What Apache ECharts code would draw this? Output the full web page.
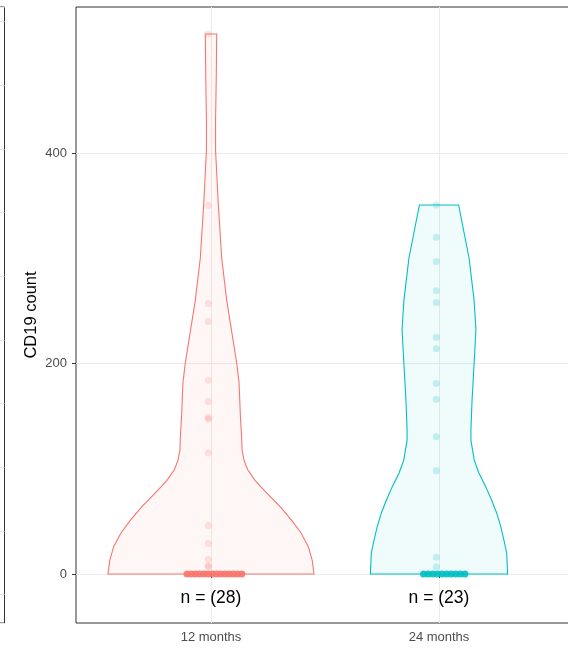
<!DOCTYPE html>
<html><head><meta charset="utf-8">
<script src="https://cdn.jsdelivr.net/npm/echarts@6/dist/echarts.min.js"></script>
<style>html,body{margin:0;padding:0;background:#fff}#c{width:568px;height:648px}</style>
</head><body><div id="c"></div>
<script>
// ---- data ----
const categories = ['12 months', '24 months'];
const yTickValues = [0, 200, 400];
const yTitle = 'CD19 count';

// CD19 counts per timepoint
const values12 = [513, 350, 257, 240, 184, 164, 149, 147, 115, 46, 29, 14, 8, 7,
                  0, 0, 0, 0, 0, 0, 0, 0, 0, 0, 0, 0, 0, 0];
const values24 = [350.6, 320, 297, 269, 258, 225, 214, 181, 166, 130.5, 98, 16, 7,
                  0, 0, 0, 0, 0, 0, 0, 0, 0, 0];

// violin density outline: level and half-width (in category units)
const violin12Level = [0, 13, 26, 39, 51, 64, 77, 89, 99, 108, 118, 127, 150, 182, 200, 230, 260, 300, 355, 403, 431, 470, 513];
const violin12Half  = [0.452, 0.444, 0.427, 0.395, 0.354, 0.303, 0.244, 0.193, 0.161, 0.145, 0.136, 0.135, 0.129, 0.123, 0.113, 0.091, 0.069, 0.047, 0.031, 0.020, 0.020, 0.023, 0.025];
const violin24Level = [0, 20, 32, 45, 58, 70, 83, 96, 108, 127, 137, 165, 200, 232, 260, 300, 350.6];
const violin24Half  = [0.301, 0.297, 0.285, 0.271, 0.253, 0.231, 0.205, 0.175, 0.155, 0.140, 0.140, 0.145, 0.154, 0.162, 0.154, 0.132, 0.086];

// ---- styling / layout ----
const colors = ['#F8766D', '#00BFC4'];
const FONT = '"Liberation Sans", Arial, sans-serif';

function violinSeries(idx, levels, halves) {
  return {
    type: 'custom', xAxisIndex: 0, yAxisIndex: 0, z: 2, silent: true,
    data: [[idx + 1, levels[levels.length - 1]]],
    renderItem: function (params, api) {
      const c = idx + 1;
      const right = levels.map((v, i) => api.coord([c + halves[i], v]));
      const left = levels.slice().reverse().map((v, i) => api.coord([c - halves[levels.length - 1 - i], v]));
      return {
        type: 'polygon',
        shape: { points: right.concat(left) },
        style: { fill: echarts.color.modifyAlpha(colors[idx], 0.06), stroke: colors[idx], lineWidth: 1.1 }
      };
    }
  };
}

function pointData(idx, vals, zeroShift, zeroStep) {
  const zeros = vals.filter(v => v === 0).length;
  let k = 0;
  const c = idx + 1;
  const nz = [], z = [];
  vals.forEach(v => {
    if (v === 0) {
      z.push([c + zeroShift + (k - (zeros - 1) / 2) * zeroStep, v]);
      k++;
    } else {
      nz.push([c - 0.012, v]);
    }
  });
  return { nz, z };
}

const p12 = pointData(0, values12, 0.015, 0.0185);
const p24 = pointData(1, values24, 0.023, 0.0202);

function pointSeries(idx, data, opacity) {
  return {
    type: 'scatter', xAxisIndex: 0, yAxisIndex: 0, z: 3, silent: true,
    symbol: 'circle', symbolSize: 7, data: data,
    itemStyle: { color: colors[idx], opacity: opacity }
  };
}

const counts = [values12.length, values24.length];
const countLabelLevel = -23;

const chart = echarts.init(document.getElementById('c'), null, { renderer: 'canvas' });
chart.setOption({
  animation: false,
  backgroundColor: '#ffffff',
  textStyle: { fontFamily: FONT },
  grid: [
    { left: 76, top: 7, width: 499.8, height: 616, show: true, borderColor: '#333333', borderWidth: 1,
      containLabel: false, outerBoundsMode: 'none' },
    { left: -200, top: 7, width: 204.5, height: 616, show: true, borderColor: '#333333', borderWidth: 1,
      containLabel: false, outerBoundsMode: 'none' }
  ],
  xAxis: [
    {
      gridIndex: 0, type: 'value', min: 0.4079, max: 2.6, splitNumber: 2,
      axisLine: { show: false },
      axisTick: { show: true, customValues: [1, 2], length: 4, lineStyle: { color: '#333333' } },
      axisLabel: { customValues: [1, 2], formatter: v => categories[Math.round(v) - 1] || '',
                   color: '#4D4D4D', fontSize: 13, margin: 8, fontFamily: FONT },
      splitLine: { show: true, lineStyle: { color: '#EBEBEB', width: 1 } }
    },
    { gridIndex: 1, type: 'value', min: 0, max: 1, show: false }
  ],
  yAxis: [
    {
      gridIndex: 0, type: 'value', min: -46.55, max: 538.7, splitNumber: 6,
      axisLine: { show: false },
      axisTick: { show: true, customValues: yTickValues, length: 4, lineStyle: { color: '#333333' } },
      axisLabel: { customValues: yTickValues, color: '#4D4D4D', fontSize: 13, margin: 9, fontFamily: FONT },
      splitLine: { show: true, lineStyle: { color: '#EBEBEB', width: 1 } },
      name: yTitle, nameLocation: 'middle', nameGap: 36, nameMoveOverlap: false,
      nameTextStyle: { color: '#000000', fontSize: 16.5, fontFamily: FONT }
    },
    {
      gridIndex: 1, type: 'value', min: -0.4443, max: 9.2262, splitNumber: 10,
      axisLine: { show: false }, axisTick: { show: false }, axisLabel: { show: false },
      splitLine: { show: true, lineStyle: { color: '#EBEBEB', width: 1 } }
    }
  ],
  series: [
    violinSeries(0, violin12Level, violin12Half),
    violinSeries(1, violin24Level, violin24Half),
    pointSeries(0, p12.nz, 0.2),
    pointSeries(1, p24.nz, 0.2),
    pointSeries(0, p12.z, 0.9),
    pointSeries(1, p24.z, 0.9),
    {
      type: 'custom', xAxisIndex: 0, yAxisIndex: 0, z: 4, silent: true,
      data: counts.map((n, i) => [i + 1, countLabelLevel, n]),
      renderItem: function (params, api) {
        const p = api.coord([api.value(0), api.value(1)]);
        return {
          type: 'text', x: p[0], y: p[1],
          style: { text: 'n = (' + api.value(2) + ')', fill: '#000000', fontSize: 17.5,
                   fontFamily: FONT, align: 'center', verticalAlign: 'middle' }
        };
      }
    }
  ]
});
</script>
</body></html>
